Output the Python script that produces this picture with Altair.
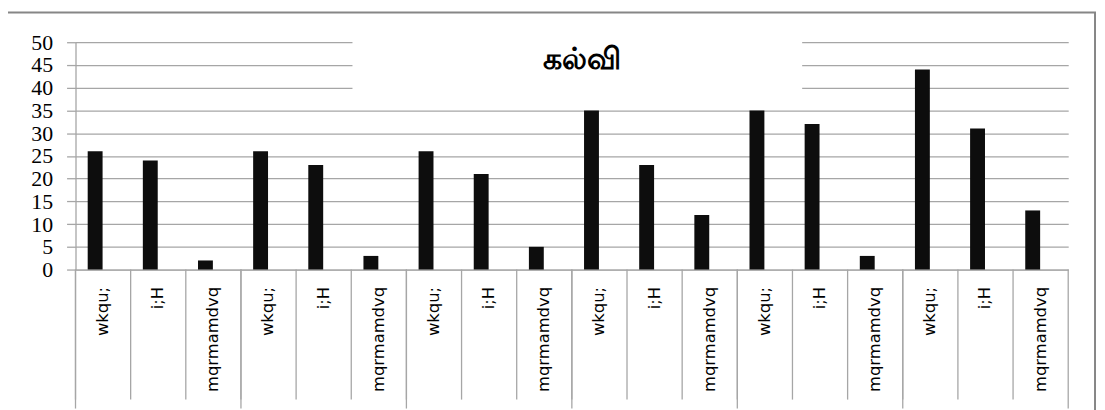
import altair as alt
import pandas as pd

title_text = "கல்வி"
labels = ["wkqu;", "i;H", "mqrmamdvq"] * 6
values = [26, 24, 2, 26, 23, 3, 26, 21, 5, 35, 23, 12, 35, 32, 3, 44, 31, 13]
y_ticks = list(range(0, 51, 5))

df = pd.DataFrame({
    "i": list(range(len(labels))),
    "key": [f"{i:02d}|{lab}" for i, lab in enumerate(labels)],
    "value": values,
})

GRID = "#a6a6a6"
FRAME = "#868686"

x_enc = alt.X(
    "key:N", sort=None, title=None,
    scale=alt.Scale(paddingInner=0, paddingOuter=0),
    axis=alt.Axis(
        labelExpr="split(datum.label, '|')[1]",
        labelAngle=270, labelAlign="right", labelBaseline="middle",
        labelPadding=17, labelFont="DejaVu Sans", labelFontSize=16.5,
        labelColor="#000000", ticks=False, domain=True, domainColor=GRID,
        grid=False, labelOverlap=False,
    ),
)
y_enc = alt.Y(
    "value:Q", title=None,
    scale=alt.Scale(domain=[0, 50], nice=False),
    axis=alt.Axis(
        values=y_ticks, grid=True, gridColor=GRID, gridWidth=1.3,
        ticks=True, tickSize=9, tickColor=GRID, tickWidth=1.3,
        domain=True, domainColor=GRID, domainWidth=1.3,
        labelFont="Liberation Serif", labelFontSize=22, labelColor="#000000",
        labelPadding=14, labelOverlap=False, labelBound=False,
    ),
)

base = alt.Chart(df)

bars = base.mark_bar(color="#0d0d0d", width=15, xOffset=-8).encode(x=x_enc, y=y_enc)

short_sep = base.mark_rule(color=GRID, strokeWidth=1.3).encode(
    x=alt.X("key:N", sort=None, bandPosition=0),
    y=alt.value(229), y2=alt.value(360),
)
long_sep = base.transform_filter("datum.i % 3 == 0").mark_rule(color=GRID, strokeWidth=1.3).encode(
    x=alt.X("key:N", sort=None, bandPosition=0),
    y=alt.value(229), y2=alt.value(369),
)
end_sep = base.transform_filter(f"datum.i == {len(labels) - 1}").mark_rule(color=GRID, strokeWidth=1.3).encode(
    x=alt.X("key:N", sort=None, bandPosition=1),
    y=alt.value(229), y2=alt.value(369),
)

tdf = alt.Chart(pd.DataFrame({"t": [title_text]}))
title_box = tdf.mark_rect(color="white").encode(
    x=alt.value(279), x2=alt.value(732), y=alt.value(-8), y2=alt.value(56),
)
title = tdf.mark_text(fontSize=30, fontWeight="bold", color="#000000", baseline="middle").encode(
    x=alt.value(510), y=alt.value(18), text="t:N",
)
frame_left = tdf.mark_rule(color=FRAME, strokeWidth=2).encode(
    x=alt.value(-69), y=alt.value(-30), y2=alt.value(380),
)
frame_top = tdf.mark_rule(color=FRAME, strokeWidth=2).encode(
    x=alt.value(-70), x2=alt.value(1028), y=alt.value(-30),
)
frame_right = tdf.mark_rule(color=FRAME, strokeWidth=2).encode(
    x=alt.value(1027), y=alt.value(-30), y2=alt.value(380),
)

chart = alt.layer(
    title_box, bars, short_sep, long_sep, end_sep, title, frame_left, frame_top, frame_right
).properties(
    width=1000, height=229,
    padding={"left": 68, "top": 33, "right": 29, "bottom": 140},
    autosize=alt.AutoSizeParams(type="none"),
    background="white",
).configure_view(strokeWidth=0)

chart.save("out.html", embed_options={"renderer": "svg", "actions": False})
